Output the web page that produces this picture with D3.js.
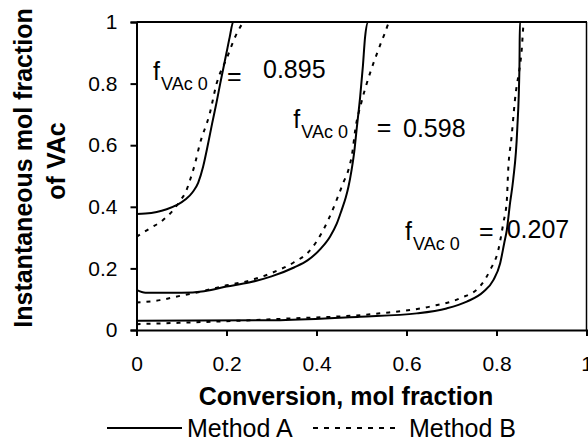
<!DOCTYPE html>
<html>
<head>
<meta charset="utf-8">
<script src="https://cdn.jsdelivr.net/npm/d3@7"></script>
<style>
  html, body { margin: 0; padding: 0; background: #fff; }
  svg { display: block; font-family: "Liberation Sans", Arial, sans-serif; }
</style>
</head>
<body>
<svg id="chart" width="588" height="441"></svg>
<script>
// ---- data ----
const xTicks = [0, 0.2, 0.4, 0.6, 0.8, 1];
const yTicks = [0, 0.2, 0.4, 0.6, 0.8, 1];
const seriesNames = ["Method A", "Method B"];

// f_VAc0 = 0.895
const methodA_0895 = [[0,0.377],[0.02,0.378],[0.045,0.383],[0.067,0.392],[0.09,0.406],[0.11,0.425],[0.125,0.448],[0.137,0.478],[0.148,0.53],[0.157,0.59],[0.168,0.67],[0.178,0.74],[0.186,0.8],[0.193,0.85],[0.2,0.9],[0.207,0.95],[0.215,1],[1,1]];
const methodB_0895 = [[0,0.303],[0.03,0.33],[0.059,0.357],[0.082,0.39],[0.097,0.42],[0.11,0.45],[0.119,0.487],[0.13,0.54],[0.14,0.6],[0.163,0.704],[0.178,0.8],[0.2,0.88],[0.223,0.963],[0.241,1],[1,1]];
// f_VAc0 = 0.598
const methodA_0598 = [[0,0.13],[0.02,0.121],[0.1,0.121],[0.15,0.126],[0.2,0.141],[0.25,0.154],[0.3,0.174],[0.35,0.203],[0.38,0.226],[0.41,0.265],[0.43,0.303],[0.445,0.345],[0.456,0.39],[0.465,0.43],[0.471,0.465],[0.478,0.52],[0.484,0.58],[0.489,0.649],[0.497,0.757],[0.503,0.855],[0.508,0.952],[0.515,1],[1,1]];
const methodB_0598 = [[0,0.089],[0.052,0.097],[0.097,0.111],[0.141,0.124],[0.2,0.145],[0.25,0.16],[0.3,0.185],[0.35,0.22],[0.38,0.25],[0.4,0.287],[0.426,0.357],[0.449,0.438],[0.46,0.48],[0.471,0.52],[0.48,0.58],[0.486,0.649],[0.5,0.74],[0.519,0.834],[0.535,0.9],[0.552,0.964],[0.563,1],[1,1]];
// f_VAc0 = 0.207
const methodA_0207 = [[0,0.03],[0.319,0.032],[0.497,0.043],[0.623,0.054],[0.689,0.07],[0.734,0.092],[0.771,0.124],[0.793,0.162],[0.808,0.216],[0.817,0.281],[0.823,0.325],[0.83,0.411],[0.837,0.487],[0.846,0.649],[0.851,0.855],[0.852,1],[1,1]];
const methodB_0207 = [[0,0.019],[0.319,0.036],[0.541,0.054],[0.652,0.076],[0.719,0.103],[0.763,0.141],[0.786,0.195],[0.804,0.26],[0.815,0.346],[0.823,0.422],[0.826,0.52],[0.833,0.62],[0.841,0.747],[0.856,0.909],[0.861,1],[1,1]];

const labelValues = ["0.895", "0.598", "0.207"];
// annotation anchors in data units: f, "=", number
const labelF   = [[0.0367,0.812],[0.3484,0.655],[0.5967,0.292]];
const labelEq  = [[0.2011,0.7955],[0.5338,0.630],[0.7611,0.292]];
const labelNum = [[0.2811,0.8172],[0.5922,0.6276],[0.8227,0.2977]];

// ---- layout ----
const svg = d3.select("#chart");
const plotL = 136.5, plotR = 586.5, plotT = 22, plotB = 330;
const x = d3.scaleLinear().domain([0, 1]).range([plotL, plotR]);
const y = d3.scaleLinear().domain([0, 1]).range([plotB, plotT]);

// frame (top & right)
svg.append("line").attr("x1", plotL).attr("x2", plotR).attr("y1", plotT).attr("y2", plotT)
  .attr("stroke", "#000").attr("stroke-width", 2);
svg.append("line").attr("x1", plotR).attr("x2", plotR).attr("y1", plotT).attr("y2", plotB)
  .attr("stroke", "#000").attr("stroke-width", 1.5);

// axes
const fmt = d => d === 0 || d === 1 ? String(d) : d3.format(".1f")(d);
const xAxis = svg.append("g").attr("transform", `translate(0,${plotB})`)
  .call(d3.axisBottom(x).tickValues(xTicks).tickFormat(fmt).tickSize(6).tickPadding(20));
const yAxis = svg.append("g").attr("transform", `translate(${plotL},0)`)
  .call(d3.axisLeft(y).tickValues(yTicks).tickFormat(fmt).tickSize(6).tickPadding(13));
[xAxis, yAxis].forEach(g => {
  g.select(".domain").attr("stroke", "#000").attr("stroke-width", 2);
  g.selectAll(".tick line").attr("stroke", "#000").attr("stroke-width", 2);
  g.selectAll(".tick text").attr("fill", "#000").attr("font-size", 21)
    .attr("font-family", "Liberation Sans, Arial, sans-serif");
});

// curves
const line = d3.line().x(d => x(d[0])).y(d => y(d[1])).curve(d3.curveMonotoneX);
const solid = [methodA_0895, methodA_0598, methodA_0207];
const dashed = [methodB_0895, methodB_0598, methodB_0207];
dashed.forEach(s => svg.append("path").datum(s).attr("d", line)
  .attr("fill", "none").attr("stroke", "#000").attr("stroke-width", 2)
  .attr("stroke-dasharray", "4,6"));
solid.forEach(s => svg.append("path").datum(s).attr("d", line)
  .attr("fill", "none").attr("stroke", "#000").attr("stroke-width", 2));

// annotations
labelValues.forEach((v, i) => {
  const fx = x(labelF[i][0]), fy = y(labelF[i][1]);
  svg.append("text").attr("x", fx).attr("y", fy).attr("font-size", 25).text("f");
  svg.append("text").attr("x", fx + 8).attr("y", fy + 10).attr("font-size", 18).text("VAc 0");
  svg.append("text").attr("x", x(labelEq[i][0])).attr("y", y(labelEq[i][1])).attr("font-size", 25).text("=");
  svg.append("text").attr("x", x(labelNum[i][0])).attr("y", y(labelNum[i][1])).attr("font-size", 25).text(v);
});

// axis titles
svg.append("text").attr("x", 346).attr("y", 405).attr("text-anchor", "middle")
  .attr("font-size", 25).attr("font-weight", "bold").text("Conversion, mol fraction");
svg.append("text").attr("transform", "translate(32,168) rotate(-90)").attr("text-anchor", "middle")
  .attr("font-size", 25).attr("font-weight", "bold").text("Instantaneous mol fraction");
svg.append("text").attr("transform", "translate(65,161) rotate(-90)").attr("text-anchor", "middle")
  .attr("font-size", 25).attr("font-weight", "bold").text("of VAc");

// legend
const legY = 428;
const legItems = [
  {name: seriesNames[0], x1: 107, x2: 182, tx: 187, dash: null},
  {name: seriesNames[1], x1: 313, x2: 398, tx: 409, dash: "5,6"}
];
legItems.forEach(it => {
  svg.append("line").attr("x1", it.x1).attr("x2", it.x2).attr("y1", legY).attr("y2", legY)
    .attr("stroke", "#000").attr("stroke-width", 2).attr("stroke-dasharray", it.dash);
  svg.append("text").attr("x", it.tx).attr("y", 437).attr("font-size", 25).text(it.name);
});
</script>
</body>
</html>
